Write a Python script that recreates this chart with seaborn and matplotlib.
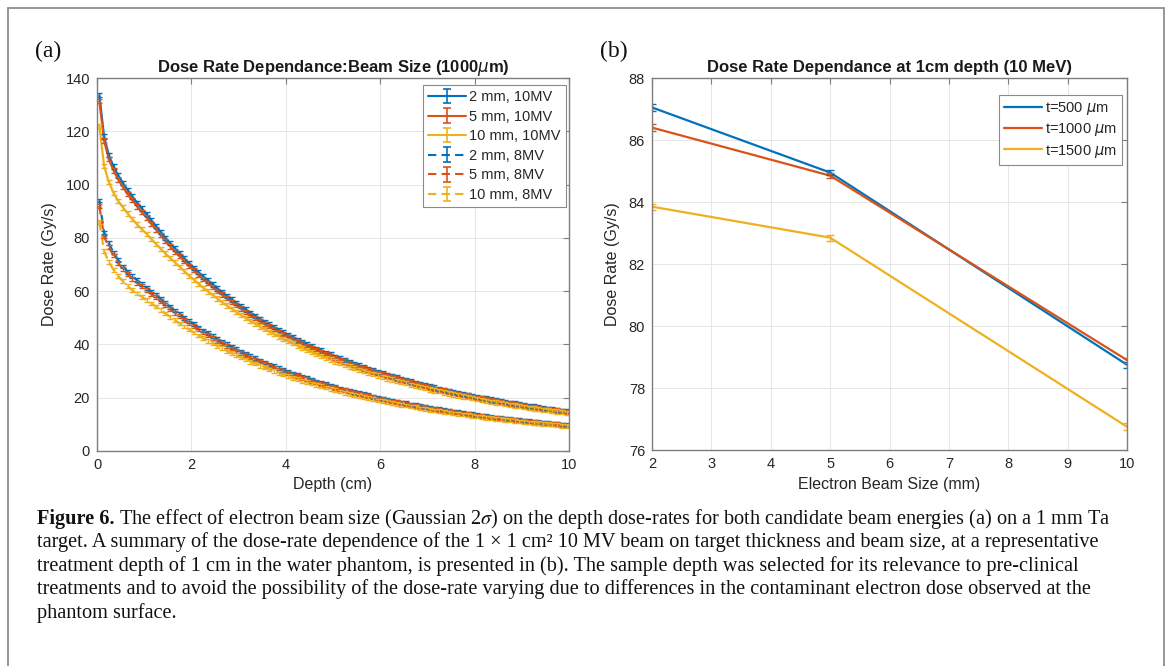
import numpy as np
import pandas as pd
import matplotlib
matplotlib.use("Agg")
import matplotlib.pyplot as plt
import seaborn as sns
from matplotlib.patches import Rectangle
from matplotlib.lines import Line2D

# ---------------- data: panel (a) ----------------
depth_cm = np.round(np.arange(0.05, 10.0, 0.1), 2)   # sample depths (cm)

dose_10mv_2mm = [133.5, 118.0, 111.0, 106.8, 103.4, 100.5, 97.9, 95.5, 93.2, 91.0,
                 88.9, 86.6, 84.4, 82.2, 80.0, 78.0, 76.0, 74.2, 72.3, 70.5,
                 68.8, 67.1, 65.5, 64.0, 62.5, 61.0, 59.6, 58.2, 56.9, 55.6,
                 54.3, 53.1, 51.9, 50.8, 49.6, 48.5, 47.5, 46.5, 45.5, 44.5,
                 43.6, 42.7, 41.8, 40.9, 40.0, 39.2, 38.4, 37.7, 36.9, 36.2,
                 35.4, 34.7, 34.1, 33.4, 32.7, 32.1, 31.5, 30.9, 30.3, 29.7,
                 29.2, 28.6, 28.1, 27.6, 27.1, 26.6, 26.1, 25.6, 25.1, 24.7,
                 24.2, 23.8, 23.4, 23.0, 22.6, 22.2, 21.8, 21.4, 21.1, 20.7,
                 20.3, 20.0, 19.7, 19.3, 19.0, 18.7, 18.4, 18.1, 17.8, 17.5,
                 17.2, 16.9, 16.7, 16.4, 16.1, 15.9, 15.6, 15.4, 15.1, 14.9]
dose_10mv_5mm = [131.3, 116.5, 109.5, 105.3, 101.9, 99.0, 96.4, 94.1, 91.8, 89.6,
                 87.6, 85.3, 83.1, 81.0, 78.8, 76.8, 74.9, 73.1, 71.2, 69.4,
                 67.8, 66.1, 64.5, 63.0, 61.6, 60.1, 58.7, 57.3, 56.0, 54.8,
                 53.5, 52.3, 51.1, 50.0, 48.9, 47.8, 46.8, 45.8, 44.8, 43.8,
                 42.9, 42.1, 41.2, 40.3, 39.4, 38.6, 37.8, 37.1, 36.3, 35.7,
                 34.9, 34.2, 33.6, 32.9, 32.2, 31.6, 31.0, 30.4, 29.8, 29.3,
                 28.8, 28.2, 27.7, 27.2, 26.7, 26.2, 25.7, 25.2, 24.7, 24.3,
                 23.8, 23.4, 23.0, 22.7, 22.3, 21.9, 21.5, 21.1, 20.8, 20.4,
                 20.0, 19.7, 19.4, 19.0, 18.7, 18.4, 18.1, 17.8, 17.5, 17.2,
                 16.9, 16.6, 16.4, 16.2, 15.9, 15.7, 15.4, 15.2, 14.9, 14.7]
dose_10mv_10mm = [122.0, 107.0, 101.0, 96.8, 93.8, 91.4, 89.1, 87.0, 85.0, 83.2,
                  81.5, 79.6, 77.7, 75.9, 74.1, 72.5, 70.8, 69.2, 67.5, 65.8,
                  64.3, 62.8, 61.3, 59.9, 58.6, 57.2, 55.9, 54.6, 53.4, 52.2,
                  51.0, 49.9, 48.8, 47.8, 46.7, 45.7, 44.8, 43.9, 43.0, 42.0,
                  41.2, 40.4, 39.5, 38.7, 37.9, 37.1, 36.4, 35.7, 35.0, 34.3,
                  33.6, 32.9, 32.4, 31.7, 31.1, 30.5, 29.9, 29.4, 28.8, 28.3,
                  27.8, 27.2, 26.8, 26.3, 25.8, 25.4, 24.9, 24.4, 24.0, 23.6,
                  23.1, 22.7, 22.4, 22.0, 21.6, 21.2, 20.8, 20.5, 20.2, 19.8,
                  19.4, 19.1, 18.9, 18.5, 18.2, 17.9, 17.6, 17.3, 17.1, 16.8,
                  16.5, 16.2, 16.0, 15.7, 15.4, 15.3, 15.0, 14.8, 14.5, 14.3]
dose_8mv_2mm = [94.0, 82.0, 78.0, 74.5, 71.6, 69.3, 67.3, 65.6, 64.1, 62.7,
                61.3, 59.9, 58.6, 57.1, 55.5, 54.1, 52.7, 51.4, 50.0, 48.8,
                47.6, 46.4, 45.2, 44.2, 43.1, 42.0, 41.1, 40.1, 39.1, 38.2,
                37.3, 36.5, 35.6, 34.8, 34.0, 33.2, 32.5, 31.8, 31.1, 30.4,
                29.8, 29.1, 28.5, 27.9, 27.3, 26.7, 26.1, 25.6, 25.1, 24.6,
                24.0, 23.5, 23.1, 22.6, 22.1, 21.7, 21.3, 20.9, 20.5, 20.0,
                19.7, 19.3, 18.9, 18.6, 18.2, 17.9, 17.5, 17.2, 16.8, 16.6,
                16.2, 15.9, 15.7, 15.4, 15.1, 14.8, 14.6, 14.3, 14.1, 13.8,
                13.5, 13.3, 13.1, 12.8, 12.6, 12.4, 12.2, 12.0, 11.8, 11.6,
                11.4, 11.2, 11.0, 10.8, 10.6, 10.5, 10.3, 10.2, 9.9, 9.8]
dose_8mv_5mm = [92.0, 80.5, 76.5, 73.4, 70.5, 68.3, 66.3, 64.6, 63.1, 61.8,
                60.4, 59.0, 57.7, 56.2, 54.7, 53.3, 51.9, 50.6, 49.3, 48.1,
                46.9, 45.7, 44.5, 43.5, 42.5, 41.4, 40.5, 39.5, 38.5, 37.6,
                36.7, 36.0, 35.1, 34.3, 33.5, 32.7, 32.0, 31.3, 30.6, 29.9,
                29.4, 28.7, 28.1, 27.5, 26.9, 26.3, 25.7, 25.2, 24.7, 24.2,
                23.6, 23.1, 22.8, 22.3, 21.8, 21.4, 21.0, 20.6, 20.2, 19.7,
                19.4, 19.0, 18.6, 18.3, 17.9, 17.6, 17.2, 16.9, 16.5, 16.4,
                16.0, 15.7, 15.5, 15.2, 14.9, 14.6, 14.4, 14.1, 13.9, 13.6,
                13.3, 13.1, 12.9, 12.6, 12.4, 12.2, 12.0, 11.8, 11.6, 11.4,
                11.2, 11.0, 10.8, 10.6, 10.4, 10.3, 10.1, 10.0, 9.8, 9.6]
dose_8mv_10mm = [86.0, 75.0, 71.0, 68.0, 65.6, 63.7, 61.9, 60.4, 59.1, 57.9,
                 56.7, 55.4, 54.2, 53.0, 51.6, 50.3, 49.1, 47.9, 46.7, 45.6,
                 44.5, 43.4, 42.3, 41.4, 40.4, 39.4, 38.6, 37.6, 36.7, 35.9,
                 35.1, 34.3, 33.5, 32.8, 32.0, 31.3, 30.6, 30.0, 29.4, 28.7,
                 28.2, 27.5, 27.0, 26.4, 25.8, 25.3, 24.7, 24.3, 23.8, 23.3,
                 22.8, 22.3, 21.9, 21.5, 21.0, 20.6, 20.2, 19.9, 19.5, 19.0,
                 18.7, 18.4, 18.0, 17.7, 17.3, 17.1, 16.7, 16.4, 16.0, 15.8,
                 15.5, 15.2, 15.0, 14.7, 14.4, 14.1, 14.0, 13.7, 13.5, 13.2,
                 12.9, 12.7, 12.5, 12.3, 12.1, 11.9, 11.7, 11.5, 11.3, 11.1,
                 10.9, 10.7, 10.5, 10.4, 10.2, 10.1, 9.9, 9.8, 9.5, 9.4]
err_10mv = 0.8
err_8mv = 0.7

series_a = [
    ("2 mm, 10MV", "2 mm", "10MV", dose_10mv_2mm, err_10mv),
    ("5 mm, 10MV", "5 mm", "10MV", dose_10mv_5mm, err_10mv),
    ("10 mm, 10MV", "10 mm", "10MV", dose_10mv_10mm, err_10mv),
    ("2 mm, 8MV", "2 mm", "8MV", dose_8mv_2mm, err_8mv),
    ("5 mm, 8MV", "5 mm", "8MV", dose_8mv_5mm, err_8mv),
    ("10 mm, 8MV", "10 mm", "8MV", dose_8mv_10mm, err_8mv),
]

# ---------------- data: panel (b) ----------------
beam_size_mm = [2, 5, 10]
thickness_labels = ["t=500 $\\mu$m", "t=1000 $\\mu$m", "t=1500 $\\mu$m"]
dose_t500 = [87.05, 84.95, 78.75]
dose_t1000 = [86.40, 84.85, 78.90]
dose_t1500 = [83.85, 82.85, 76.75]
err_t500 = [0.12, 0.08, 0.10]
err_t1000 = [0.12, 0.08, 0.08]
err_t1500 = [0.10, 0.10, 0.12]

# ---------------- style ----------------
sns.set_theme(style="white")
plt.rcParams["font.family"] = ["Liberation Sans", "DejaVu Sans"]

BLUE, ORANGE, YELLOW = "#0072BD", "#D95319", "#EDB120"
size_colors = {"2 mm": BLUE, "5 mm": ORANGE, "10 mm": YELLOW}
SPINE = "#7d7d7d"
TXT = "#262626"

W, H = 1171, 666
fig = plt.figure(figsize=(W / 100, H / 100), dpi=100)
axA = fig.add_axes([97 / W, 1 - 451 / H, 472 / W, 373 / H])
axB = fig.add_axes([652 / W, 1 - 450 / H, 475 / W, 372 / H])


def style_ax(ax):
    ax.grid(True, color="#e6e6e6", lw=0.7)
    ax.set_axisbelow(True)
    for s in ax.spines.values():
        s.set_visible(True)
        s.set_color(SPINE)
        s.set_linewidth(1.0)
    ax.tick_params(direction="in", top=True, right=True, length=4, width=0.8,
                   color=SPINE, labelsize=10.5, labelcolor=TXT, pad=5)


# ---------------- panel (a) ----------------
rows = []
for label, size, energy, vals, err in series_a:
    for d, v in zip(depth_cm, vals):
        rows.append({"depth": d, "dose": v, "size": size, "energy": energy})
dfA = pd.DataFrame(rows)

sns.lineplot(data=dfA, x="depth", y="dose", hue="size", style="energy",
             hue_order=["2 mm", "5 mm", "10 mm"], style_order=["10MV", "8MV"],
             palette=size_colors, dashes={"10MV": "", "8MV": (4, 2.5)},
             linewidth=1.6, estimator=None, sort=False, legend=False, ax=axA)

handles = []
for label, size, energy, vals, err in series_a:
    c = size_colors[size]
    axA.errorbar(depth_cm, vals, yerr=err, fmt="none", ecolor=c,
                 elinewidth=1.0, capsize=2.5, capthick=1.0)
    ls = "-" if energy == "10MV" else (0, (4, 2.5))
    h = axA.errorbar([np.nan], [np.nan], yerr=[1.0], color=c, ls=ls, lw=1.5,
                     elinewidth=1.2, capsize=3, capthick=1.2, label=label)
    handles.append(h)

style_ax(axA)
axA.set_xlim(0, 10)
axA.set_ylim(0, 140)
axA.set_xticks(range(0, 11, 2))
axA.set_yticks(range(0, 141, 20))
axA.set_xlabel("Depth (cm)", fontsize=11.5, color=TXT, labelpad=4)
axA.set_ylabel("Dose Rate (Gy/s)", fontsize=11.5, color=TXT, labelpad=6)
axA.set_title("Dose Rate Dependance:Beam Size (1000$\\mu$m)", fontsize=12,
              fontweight="bold", color="#1a1a1a", pad=4)
legA = axA.legend(handles=handles, loc="upper right", bbox_to_anchor=(0.993, 0.981),
                  borderaxespad=0, fontsize=10.5, frameon=True, fancybox=False,
                  framealpha=1, edgecolor="#8a8a8a", handlelength=2.6,
                  handletextpad=0.2, labelspacing=0.38, borderpad=0.35)
legA.get_frame().set_linewidth(0.8)
for t in legA.get_texts():
    t.set_color(TXT)

# ---------------- panel (b) ----------------
rowsB = []
for lab, vals in zip(thickness_labels, [dose_t500, dose_t1000, dose_t1500]):
    for s, v in zip(beam_size_mm, vals):
        rowsB.append({"size": s, "dose": v, "t": lab})
dfB = pd.DataFrame(rowsB)
colsB = [BLUE, ORANGE, YELLOW]
sns.lineplot(data=dfB, x="size", y="dose", hue="t", hue_order=thickness_labels,
             palette=colsB, linewidth=1.6, estimator=None, sort=False,
             legend=False, ax=axB)
for c, vals, err in zip(colsB, [dose_t500, dose_t1000, dose_t1500],
                        [err_t500, err_t1000, err_t1500]):
    axB.errorbar(beam_size_mm, vals, yerr=err, fmt="none", ecolor=c,
                 elinewidth=1.0, capsize=3, capthick=1.0)

style_ax(axB)
axB.set_xlim(2, 10)
axB.set_ylim(76, 88)
axB.set_xticks(range(2, 11))
axB.set_yticks(range(76, 89, 2))
axB.set_xlabel("Electron Beam Size (mm)", fontsize=11.5, color=TXT, labelpad=4)
axB.set_ylabel("Dose Rate (Gy/s)", fontsize=11.5, color=TXT, labelpad=6)
axB.set_title("Dose Rate Dependance at 1cm depth (10 MeV)", fontsize=12,
              fontweight="bold", color="#1a1a1a", pad=4)
hB = [Line2D([0], [0], color=c, lw=1.6) for c in colsB]
legB = axB.legend(hB, thickness_labels, loc="upper right",
                  bbox_to_anchor=(0.989, 0.955), borderaxespad=0, fontsize=10.5,
                  frameon=True, fancybox=False, framealpha=1, edgecolor="#8a8a8a",
                  handlelength=2.6, handletextpad=0.2, labelspacing=0.3,
                  borderpad=0.35)
legB.get_frame().set_linewidth(0.8)
for t in legB.get_texts():
    t.set_color(TXT)

# ---------------- panel letters ----------------
fig.text(35 / W, 1 - 51 / H, "(a)", fontfamily="Liberation Serif", fontsize=17,
         va="center", color="#111111")
fig.text(600 / W, 1 - 51 / H, "(b)", fontfamily="Liberation Serif", fontsize=17,
         va="center", color="#111111")

# ---------------- outer frame ----------------
fig.add_artist(Rectangle((8 / W, -0.05), (1164 - 8) / W, 0.05 + 1 - 8 / H,
                         transform=fig.transFigure, fill=False,
                         ec="#8f8f8f", lw=1.3))

# ---------------- caption ----------------
cap_bold = "Figure 6."
cap_lines = [
    " The effect of electron beam size (Gaussian 2$\\sigma$) on the depth dose-rates for both candidate beam energies (a) on a 1 mm Ta",
    "target. A summary of the dose-rate dependence of the 1 \u00d7 1 cm\u00b2 10 MV beam on target thickness and beam size, at a representative",
    "treatment depth of 1 cm in the water phantom, is presented in (b). The sample depth was selected for its relevance to pre-clinical",
    "treatments and to avoid the possibility of the dose-rate varying due to differences in the contaminant electron dose observed at the",
    "phantom surface.",
]
cap_y = [519, 542.5, 566, 589.5, 613]
x0 = 37
fs = 14.6

renderer = fig.canvas.get_renderer()
tb = fig.text(x0 / W, 1 - cap_y[0] / H, cap_bold, fontfamily="Liberation Serif",
              fontweight="bold", fontsize=fs, va="center", color="#111111")
bb = tb.get_window_extent(renderer)
fig.text(bb.x1 / W, 1 - cap_y[0] / H, cap_lines[0], fontfamily="Liberation Serif",
         fontsize=fs, va="center", color="#111111", math_fontfamily="stix")
for line, y in zip(cap_lines[1:], cap_y[1:]):
    fig.text(x0 / W, 1 - y / H, line, fontfamily="Liberation Serif", fontsize=fs,
             va="center", color="#111111", math_fontfamily="stix")

fig.savefig("out.png", dpi=100)
